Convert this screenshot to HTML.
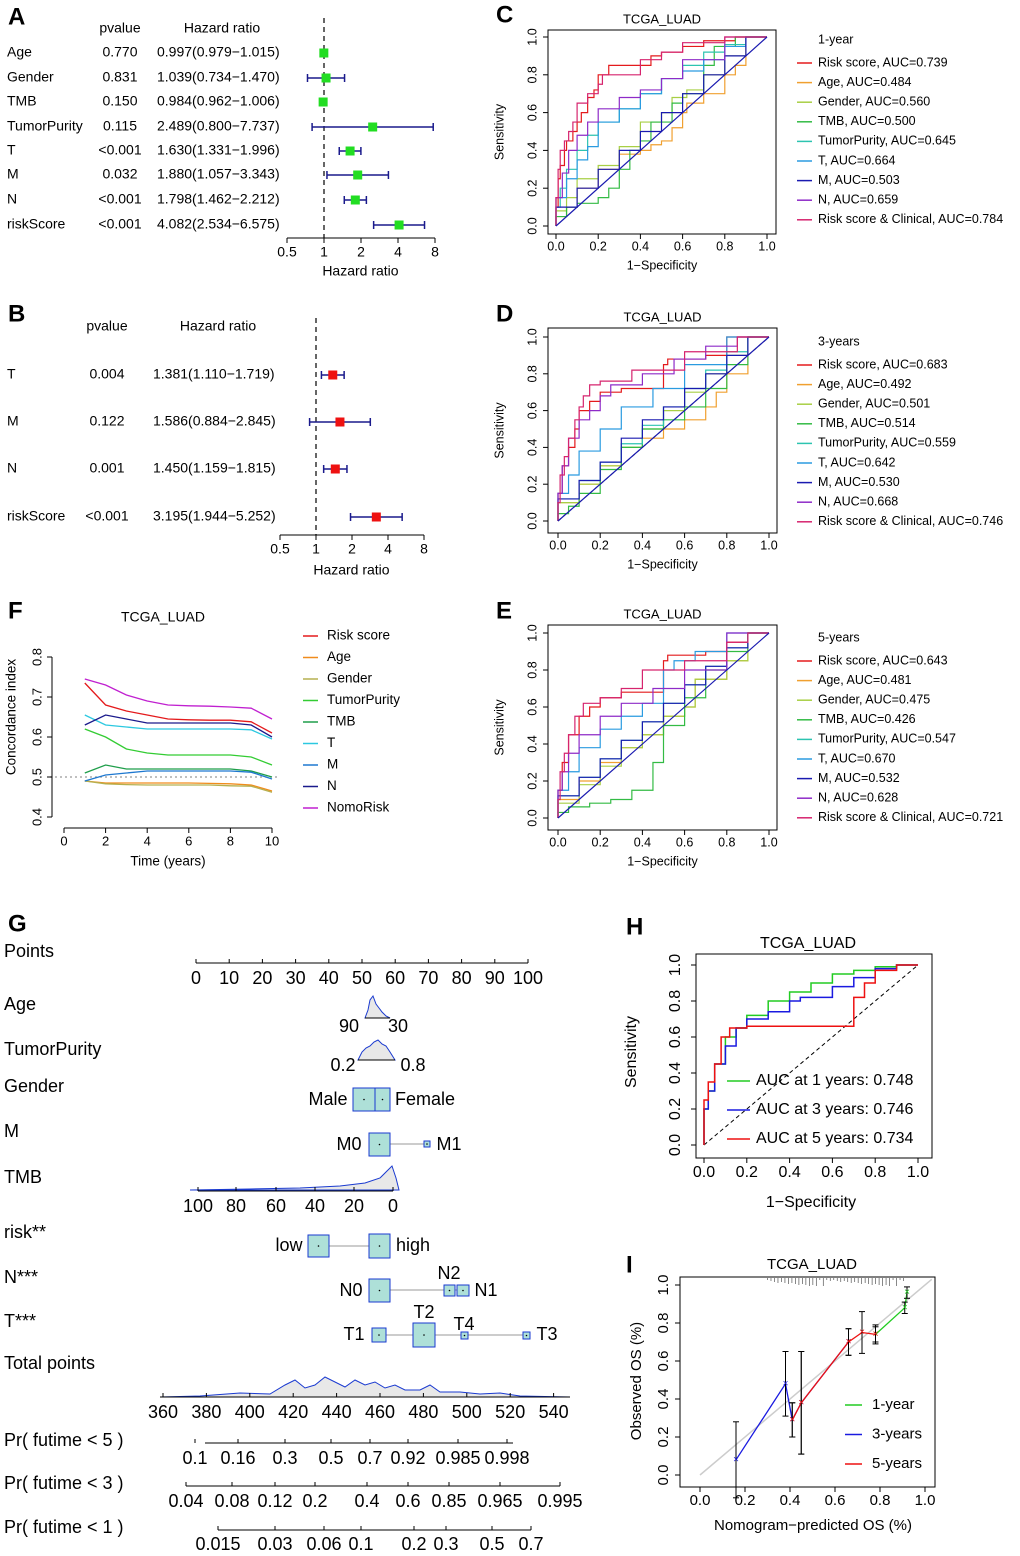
<!DOCTYPE html>
<html><head><meta charset="utf-8"><style>
html,body{margin:0;padding:0;background:#fff}
svg{display:block;font-family:"Liberation Sans",Arial,sans-serif}
</style></head><body>
<svg id="fig" width="1020" height="1556" viewBox="0 0 1020 1556"></svg>
<script>
// ---------------- DATA ----------------
const forestA_names=["Age","Gender","TMB","TumorPurity","T","M","N","riskScore"];
const forestA_p=["0.770","0.831","0.150","0.115","<0.001","0.032","<0.001","<0.001"];
const forestA_hr=[0.997,1.039,0.984,2.489,1.630,1.880,1.798,4.082];
const forestA_lo=[0.979,0.734,0.962,0.800,1.331,1.057,1.462,2.534];
const forestA_hi=[1.015,1.470,1.006,7.737,1.996,3.343,2.212,6.575];
const forestB_names=["T","M","N","riskScore"];
const forestB_p=["0.004","0.122","0.001","<0.001"];
const forestB_hr=[1.381,1.586,1.450,3.195];
const forestB_lo=[1.110,0.884,1.159,1.944];
const forestB_hi=[1.719,2.845,1.815,5.252];
const forestTicks=[0.5,1,2,4,8];

const rocLabels=["Risk score","Age","Gender","TMB","TumorPurity","T","M","N","Risk score & Clinical"];
const rocColors=["#E41A1C","#F0A030","#A8CF45","#33BB44","#2CC4B0","#2A9BE0","#1A1AB0","#8E2BC8","#D6246E"];
const aucC=["0.739","0.484","0.560","0.500","0.645","0.664","0.503","0.659","0.784"];
const aucD=["0.683","0.492","0.501","0.514","0.559","0.642","0.530","0.668","0.746"];
const aucE=["0.643","0.481","0.475","0.426","0.547","0.670","0.532","0.628","0.721"];
const rocC_fpr=[[0,.01,.02,.04,.05,.08,.1,.12,.15,.18,.2,.25,.3,.45,.5,.6,.7,.85,1],[0,.05,.1,.2,.3,.4,.45,.5,.55,.6,.62,.7,.8,.85,.9,1],[0,.05,.1,.2,.3,.4,.5,.55,.62,.7,.8,.9,1],[0,.05,.1,.2,.25,.3,.35,.4,.45,.55,.6,.7,.75,.85,1],[0,.02,.05,.1,.15,.2,.3,.4,.5,.6,.7,.8,.9,1],[0,.05,.1,.15,.2,.3,.4,.5,.6,.7,.8,.9,1],[0,.1,.2,.3,.4,.5,.6,.7,.8,.9,1],[0,.03,.06,.1,.15,.2,.3,.4,.5,.6,.8,1],[0,.01,.02,.04,.06,.08,.1,.15,.2,.22,.28,.4,.5,.6,.8,1]];
const rocC_tpr=[[0,.1,.25,.32,.4,.45,.5,.55,.6,.68,.72,.8,.85,.85,.9,.92,.95,.98,1],[0,.05,.1,.2,.3,.38,.4,.43,.45,.52,.6,.65,.7,.8,.85,1],[0,.08,.15,.25,.32,.42,.55,.6,.68,.72,.8,.9,1],[0,.05,.1,.12,.15,.2,.3,.4,.45,.55,.65,.7,.85,.95,1],[0,.1,.2,.3,.4,.48,.55,.62,.7,.78,.85,.92,.96,1],[0,.15,.25,.35,.42,.55,.62,.7,.78,.82,.88,.95,1],[0,.1,.2,.3,.4,.5,.6,.7,.8,.9,1],[0,.15,.28,.4,.48,.55,.62,.68,.72,.78,.88,1],[0,.15,.3,.4,.45,.5,.55,.65,.7,.75,.8,.8,.88,.92,.97,1]];
const rocD_fpr=[[0,.02,.05,.08,.1,.15,.2,.3,.4,.5,.52,.7,.8,1],[0,.1,.2,.3,.4,.5,.6,.7,.75,.8,.9,1],[0,.1,.2,.3,.4,.5,.6,.7,.8,.9,1],[0,.05,.1,.2,.3,.4,.5,.6,.7,.8,.9,1],[0,.1,.2,.3,.4,.5,.6,.7,.8,.9,1],[0,.05,.1,.2,.3,.45,.6,.8,1],[0,.1,.2,.3,.4,.5,.6,.7,.8,.9,1],[0,.02,.05,.1,.15,.2,.25,.4,.55,.7,.85,1],[0,.01,.03,.05,.08,.1,.12,.15,.2,.35,.6,.85,1]];
const rocD_tpr=[[0,.15,.3,.4,.5,.6,.65,.7,.72,.72,.85,.88,.9,1],[0,.1,.2,.3,.4,.45,.5,.55,.62,.7,.8,1],[0,.1,.2,.3,.4,.5,.6,.7,.8,.9,1],[0,.04,.08,.15,.28,.4,.5,.55,.62,.72,.85,1],[0,.12,.22,.32,.42,.52,.62,.72,.82,.92,1],[0,.15,.25,.38,.5,.62,.72,.85,1],[0,.12,.22,.32,.45,.55,.62,.72,.8,.9,1],[0,.15,.3,.45,.55,.6,.68,.74,.8,.88,.95,1],[0,.1,.25,.35,.45,.55,.62,.68,.74,.76,.82,.92,1]];
const rocE_fpr=[[0,.02,.05,.1,.15,.2,.3,.4,.5,.52,.7,.8,.9,1],[0,.1,.2,.3,.4,.5,.6,.65,.8,.9,1],[0,.1,.2,.3,.4,.5,.6,.65,.8,.9,1],[0,.05,.15,.25,.35,.45,.5,.6,.7,.8,.9,1],[0,.1,.2,.3,.4,.5,.6,.7,.8,.9,1],[0,.05,.1,.2,.3,.4,.5,.55,.65,.8,1],[0,.1,.2,.3,.4,.5,.6,.7,.8,.9,1],[0,.02,.05,.1,.2,.3,.45,.6,.8,1],[0,.01,.03,.05,.08,.12,.2,.3,.4,.6,.8,.9,1]];
const rocE_tpr=[[0,.15,.3,.45,.55,.6,.65,.68,.68,.85,.88,.9,.95,1],[0,.1,.2,.3,.38,.45,.55,.6,.75,.85,1],[0,.08,.18,.28,.38,.45,.55,.6,.75,.85,1],[0,.03,.06,.08,.1,.15,.3,.5,.65,.8,.9,1],[0,.12,.22,.32,.42,.52,.62,.72,.82,.92,1],[0,.15,.25,.38,.48,.55,.62,.8,.85,.9,1],[0,.12,.22,.32,.42,.52,.62,.72,.82,.92,1],[0,.15,.25,.35,.45,.55,.62,.7,.8,1],[0,.1,.25,.35,.45,.55,.62,.65,.7,.8,.85,.95,1]];

const cindexTimes=[1,2,3,4,5,6,7,8,9,10];
const cindexLabels=["Risk score","Age","Gender","TumorPurity","TMB","T","M","N","NomoRisk"];
const cindexColors=["#E41A1C","#F08C1C","#B5B050","#33CC33","#1F9E4A","#2CC8E0","#1E78D0","#1A1A8C","#C020D0"];
const cindexVals=[
 [0.735,0.68,0.665,0.655,0.645,0.643,0.642,0.642,0.638,0.61],
 [0.49,0.485,0.485,0.485,0.485,0.485,0.484,0.483,0.48,0.465],
 [0.49,0.483,0.481,0.48,0.48,0.48,0.48,0.478,0.477,0.462],
 [0.62,0.6,0.57,0.56,0.555,0.555,0.555,0.555,0.55,0.53],
 [0.51,0.53,0.52,0.52,0.52,0.52,0.52,0.52,0.515,0.50],
 [0.655,0.63,0.625,0.62,0.62,0.62,0.62,0.62,0.618,0.595],
 [0.49,0.505,0.51,0.515,0.515,0.515,0.515,0.515,0.512,0.495],
 [0.63,0.655,0.645,0.635,0.635,0.635,0.635,0.635,0.63,0.6],
 [0.745,0.73,0.705,0.69,0.68,0.678,0.677,0.675,0.672,0.645]];

const rocH_fpr=[[0,.02,.05,.1,.15,.2,.3,.4,.5,.6,.7,.8,.9,1],[0,.02,.05,.1,.15,.2,.3,.4,.45,.6,.7,.8,.9,1],[0,.02,.05,.08,.12,.2,.35,.5,.7,.75,.8,.9,1]];
const rocH_tpr=[[0,.2,.3,.45,.6,.65,.72,.8,.85,.9,.95,.97,.99,1],[0,.2,.3,.45,.55,.65,.7,.74,.8,.82,.88,.93,.98,1],[0,.25,.35,.45,.6,.65,.66,.66,.66,.82,.9,.97,1]];
const aucH=["0.748","0.746","0.734"];
const calibX=[[0.78,0.91,0.92],[0.16,0.38,0.45,0.41,0.66],[0.41,0.45,0.66,0.72,0.78]];
const calibY=[[0.74,0.88,0.96],[0.08,0.48,0.38,0.29,0.70],[0.29,0.38,0.70,0.75,0.74]];
const calibErr=[[0.04,0.03,0.03],[0.20,0.17,0.27,0.09,0.07],[0.09,0.27,0.07,0.11,0.05]];

// ---------------- HELPERS ----------------
const NS="http://www.w3.org/2000/svg";
const svg=document.getElementById('fig');
function el(tag,attrs,parent){const e=document.createElementNS(NS,tag);for(const k in attrs)e.setAttribute(k,attrs[k]);(parent||svg).appendChild(e);return e;}
function txt(x,y,s,size,anchor,parent,extra){const t=el('text',Object.assign({x:x,y:y,'font-size':size,'text-anchor':anchor||'start','dominant-baseline':'middle',fill:'#000'},extra||{}),parent);t.textContent=s;return t;}
function line(x1,y1,x2,y2,stroke,w,parent,dash){const a={x1:x1,y1:y1,x2:x2,y2:y2,stroke:stroke,'stroke-width':w||1};if(dash)a['stroke-dasharray']=dash;return el('line',a,parent);}
function stepPts(f,t,sx,sy){let pts=[];f.forEach((v,j)=>{if(j>0)pts.push(sx(f[j-1])+','+sy(t[j]));pts.push(sx(v)+','+sy(t[j]));});return pts.join(' ');}

[["A",8,18],["B",8,315],["C",496,16],["D",496,315],["F",8,612],["E",496,612],["G",8,925],["H",626,928],["I",626,1266]].forEach(p=>{
 const t=txt(p[1],p[2],p[0],24,'start',null,{'font-weight':'bold'});
 
 
});

// ---------------- FOREST ----------------
function forest(id,names,ps,hr,lo,hi,rows,hdrY,pX,hrX,x1,dpx,axY,titleY,color,topY,fs){
 const g=el('g',{});
 
 
 const sx=v=>x1+dpx*Math.log2(v);
 txt(pX,hdrY,'pvalue',fs,'middle',g);
 txt(hrX+65,hdrY,'Hazard ratio',fs,'middle',g);
 line(x1,topY,x1,axY,'#000',1.2,g,'5,4');
 names.forEach((n,i)=>{
  const y=rows[i];
  txt(7,y,n,fs,'start',g);
  txt(pX,y,ps[i],fs,'middle',g);
  txt(hrX,y,hr[i].toFixed(3)+'('+lo[i].toFixed(3)+'\u2212'+hi[i].toFixed(3)+')',fs,'start',g);
  line(sx(lo[i]),y,sx(hi[i]),y,'#1A1A8C',1.5,g);
  line(sx(lo[i]),y-4,sx(lo[i]),y+4,'#1A1A8C',1.5,g);
  line(sx(hi[i]),y-4,sx(hi[i]),y+4,'#1A1A8C',1.5,g);
  const r=el('rect',{x:sx(hr[i])-4.5,y:y-4.5,width:9,height:9,fill:color},g);
  
  
 });
 line(sx(0.5),axY,sx(8),axY,'#000',1,g);
 forestTicks.forEach(t=>{line(sx(t),axY,sx(t),axY+5,'#000',1,g);txt(sx(t),axY+15,String(t),fs,'middle',g);});
 txt(sx(Math.SQRT2*1.4),titleY,'Hazard ratio',fs,'middle',g);
}
forest('a',forestA_names,forestA_p,forestA_hr,forestA_lo,forestA_hi,[53,78,102,127,151,175,200,225],29,120,157,324,37,238,272,'#22DD22',18,14);
forest('b',forestB_names,forestB_p,forestB_hr,forestB_lo,forestB_hi,[375,422,469,517],327,107,153,316,36,535,571,'#EE1111',318,14);

// ---------------- ROC (C,D,E) ----------------
function rocPanel(id,bx0,by0,bx1,by1,sx0,sy0,span,spanY,fprs,tprs,aucs,hdr,legY,dashed){
 const g=el('g',{});
 
 
 const sx=v=>sx0+v*span, sy=v=>sy0-v*spanY;
 txt((bx0+bx1)/2,by0-10,'TCGA_LUAD',13,'middle',g);
 if(dashed) line(sx(0),sy(0),sx(1),sy(1),'#000',1,g,'4,3');
 fprs.forEach((f,i)=>{
  const p=el('polyline',{points:stepPts(f,tprs[i],sx,sy),fill:'none',stroke:rocColors[i],'stroke-width':1.2},g);
  
  
 });
 line(sx(0),sy(0),sx(1),sy(1),'#1A1AB0',1.2,g);
 el('rect',{x:bx0,y:by0,width:bx1-bx0,height:by1-by0,fill:'none',stroke:'#000','stroke-width':1},g);
 for(let k=0;k<=5;k++){const v=k/5;
  line(sx(v),by1,sx(v),by1+5,'#000',1,g);txt(sx(v),by1+13,v.toFixed(1),12.5,'middle',g);
  line(bx0,sy(v),bx0-5,sy(v),'#000',1,g);txt(bx0-15,sy(v),v.toFixed(1),12.5,'middle',g,{transform:'rotate(-90 '+(bx0-15)+' '+sy(v)+')'});
 }
 txt((bx0+bx1)/2,by1+32,'1\u2212Specificity',12.5,'middle',g);
 const yl=(by0+by1)/2;txt(bx0-48,yl,'Sensitivity',12.5,'middle',g,{transform:'rotate(-90 '+(bx0-48)+' '+yl+')'});
 txt(818,legY,hdr,12.5,'start',g);
 aucs.forEach((a,i)=>{const y=legY+23+i*19.6;
  const lg=el('g',{},g);
  
  
  line(797,y,812,y,rocColors[i],1.5,lg);txt(818,y,rocLabels[i]+', AUC='+a,12.5,'start',lg);});
}
rocPanel('c',548,30,776,234,556,226,211,189,rocC_fpr,rocC_tpr,aucC,'1-year',40,false);
rocPanel('d',548,328,777,533,558,521,211,184,rocD_fpr,rocD_tpr,aucD,'3-years',342,true);
rocPanel('e',548,625,777,830,558,818,211,185,rocE_fpr,rocE_tpr,aucE,'5-years',638,false);

// ---------------- C-INDEX (F) ----------------
(function(){
 const g=el('g',{});
 
 
 const sx=t=>64+t*20.8, sy=v=>817-(v-0.4)*400;
 txt(163,618,'TCGA_LUAD',14,'middle',g);
 line(50,sy(0.5),280,sy(0.5),'#999',1.3,g,'2,3');
 cindexVals.forEach((s,i)=>{
  const p=el('polyline',{points:s.map((v,j)=>sx(cindexTimes[j])+','+sy(v)).join(' '),fill:'none',stroke:cindexColors[i],'stroke-width':1.3},g);
  
  
 });
 line(sx(0),828,sx(10),828,'#000',1,g);
 [0,2,4,6,8,10].forEach(t=>{line(sx(t),828,sx(t),833,'#000',1,g);txt(sx(t),842,String(t),13,'middle',g);});
 line(52,sy(0.4),52,sy(0.8),'#000',1,g);
 [0.4,0.5,0.6,0.7,0.8].forEach(v=>{line(52,sy(v),47,sy(v),'#000',1,g);txt(38,sy(v),v.toFixed(1),13,'middle',g,{transform:'rotate(-90 38 '+sy(v)+')'});});
 txt(168,862,'Time (years)',13.5,'middle',g);
 txt(12,717,'Concordance index',13.5,'middle',g,{transform:'rotate(-90 12 717)'});
 cindexLabels.forEach((l,i)=>{const y=636+i*21.5;line(303,y,318,y,cindexColors[i],1.5,g);txt(327,y,l,13.5,'start',g);});
})();

// ---------------- NOMOGRAM (G) ----------------
(function(){
 const g=el('g',{});
 
 
 const F=18;
 [["Points",952],["Age",1005],["TumorPurity",1050],["Gender",1087],["M",1132],["TMB",1178],["risk**",1233],["N***",1278],["T***",1322],["Total points",1364],["Pr( futime < 5 )",1441],["Pr( futime < 3 )",1484],["Pr( futime < 1 )",1528]].forEach(r=>txt(4,r[1],r[0],F,'start',g));
 function scale(y,labels,xs,ly,size,x0,x1){line(x0!==undefined?x0:xs[0],y,x1!==undefined?x1:xs[xs.length-1],y,'#000',1,g);xs.forEach((x,i)=>{line(x,y,x,y-4,'#000',1,g);txt(x,ly,labels[i],size||F,'middle',g);});}
 scale(963,["0","10","20","30","40","50","60","70","80","90","100"],[0,1,2,3,4,5,6,7,8,9,10].map(i=>196+i*33.2),979);
 const box=(x,y,w,h)=>{el('rect',{x:x,y:y,width:w,height:h,fill:'#AEE0D8',stroke:'#1A3AD0','stroke-width':1},g);el('circle',{cx:x+w/2,cy:y+h/2,r:0.8,fill:'#000'},g);};
 el('path',{d:'M365 1018 L368 1010 L370 1000 L373 996 L376 1004 L379 1008 L382 1012 L386 1016 L390 1018 Z',fill:'#E8E8E8',stroke:'#1A3AD0'},g);
 line(365,1018,390,1018,'#000',1,g);txt(349,1027,'90',F,'middle',g);txt(398,1027,'30',F,'middle',g);
 el('path',{d:'M358 1060 L362 1052 L366 1048 L370 1046 L374 1042 L378 1040 L382 1044 L386 1046 L390 1052 L395 1060 Z',fill:'#E8E8E8',stroke:'#1A3AD0'},g);
 line(358,1060,395,1060,'#000',1,g);txt(343,1066,'0.2',F,'middle',g);txt(413,1066,'0.8',F,'middle',g);
 box(353,1088,22,23);box(375,1088,15,23);txt(328,1100,'Male',F,'middle',g);txt(425,1100,'Female',F,'middle',g);
 line(390,1144,427,1144,'#999',1,g);box(369,1133,21,23);box(424,1141,6,6);txt(349,1145,'M0',F,'middle',g);txt(449,1145,'M1',F,'middle',g);
 el('path',{d:'M190 1190 L250 1189 L300 1188 L340 1186 L365 1183 L380 1178 L388 1170 L392 1166 L396 1178 L399 1190 Z',fill:'#E8E8E8',stroke:'#1A3AD0'},g);
 scale(1191,["100","80","60","40","20","0"],[198,236,276,315,354,393],1207);
 line(329,1246,369,1246,'#999',1,g);box(308,1235,21,22);box(369,1234,21,24);txt(289,1246,'low',F,'middle',g);txt(413,1246,'high',F,'middle',g);
 line(390,1290,469,1290,'#999',1,g);box(369,1279,21,23);box(444,1285,11,11);box(457,1285,12,11);txt(351,1291,'N0',F,'middle',g);txt(449,1274,'N2',F,'middle',g);txt(486,1291,'N1',F,'middle',g);
 line(386,1335,530,1335,'#999',1,g);box(372,1328,14,14);box(413,1323,22,24);box(461,1332,7,7);box(523,1332,7,7);
 txt(354,1335,'T1',F,'middle',g);txt(424,1313,'T2',F,'middle',g);txt(464,1325,'T4',F,'middle',g);txt(547,1335,'T3',F,'middle',g);
 el('path',{d:'M160 1397 L200 1396 L240 1393 L270 1394 L285 1385 L295 1380 L305 1388 L315 1385 L325 1377 L335 1382 L345 1387 L355 1380 L365 1385 L375 1382 L385 1388 L395 1385 L405 1390 L420 1390 L430 1385 L440 1392 L460 1392 L480 1394 L500 1393 L520 1396 L570 1397 Z',fill:'#E8E8E8',stroke:'#1A3AD0'},g);
 scale(1397,["360","380","400","420","440","460","480","500","520","540"],[0,1,2,3,4,5,6,7,8,9].map(i=>163+i*43.4),1413,F,160,570);
 scale(1443,["0.1","0.16","0.3","0.5","0.7","0.92","0.985","0.998"],[195,238,285,331,370,408,458,507],1459,F,205,513);
 scale(1486,["0.04","0.08","0.12","0.2","0.4","0.6","0.85","0.965","0.995"],[186,232,275,315,367,408,449,500,560],1502,F);
 scale(1530,["0.015","0.03","0.06","0.1","0.2","0.3","0.5","0.7"],[218,275,324,361,414,446,492,531],1545,F);
})();

// ---------------- ROC (H) ----------------
(function(){
 const g=el('g',{});
 
 
 const sx=v=>704+v*214, sy=v=>1145-v*180;
 const cols=["#22CC22","#1A1AE0","#EE1111"];
 txt(808,944,'TCGA_LUAD',16,'middle',g);
 line(sx(0),sy(0),sx(1),sy(1),'#000',1,g,'4,3');
 rocH_fpr.forEach((f,i)=>{
  const p=el('polyline',{points:stepPts(f,rocH_tpr[i],sx,sy),fill:'none',stroke:cols[i],'stroke-width':1.5},g);
  
  });
 el('rect',{x:696,y:954,width:236,height:204,fill:'none',stroke:'#000'},g);
 for(let k=0;k<=5;k++){const v=k/5;line(sx(v),1158,sx(v),1163,'#000',1,g);txt(sx(v),1173,v.toFixed(1),16,'middle',g);
  line(696,sy(v),691,sy(v),'#000',1,g);txt(676,sy(v),v.toFixed(1),16,'middle',g,{transform:'rotate(-90 676 '+sy(v)+')'});}
 txt(811,1203,'1\u2212Specificity',16,'middle',g);
 txt(632,1052,'Sensitivity',16,'middle',g,{transform:'rotate(-90 632 1052)'});
 ["1","3","5"].forEach((yy,i)=>{const y=1081+i*29;line(727,y,750,y,cols[i],1.5,g);txt(756,y,'AUC at '+yy+' years: '+aucH[i],16,'start',g);});
})();

// ---------------- CALIBRATION (I) ----------------
(function(){
 const g=el('g',{});
 
 
 const sx=v=>700+v*225, sy=v=>1475-v*190;
 const cols=["#22CC22","#1A1AE0","#EE1111"];
 txt(812,1265,'TCGA_LUAD',15,'middle',g);
 line(sx(0),sy(0),sx(1.03),sy(1.03),'#CCCCCC',1.5,g);
 for(let i=0;i<40;i++){const x=sx(0.3+0.62*((i*37)%40)/40);line(x,1278,x,1278+2+((i*13)%7),'#555',0.7,g);}
 calibX.forEach((xs,i)=>{
  const order=xs.map((v,j)=>j).sort((a,b)=>xs[a]-xs[b]);
  const p=el('polyline',{points:order.map(j=>sx(xs[j])+','+sy(calibY[i][j])).join(' '),fill:'none',stroke:cols[i],'stroke-width':1.3},g);
  
  
  xs.forEach((x,j)=>{const y=calibY[i][j],e=calibErr[i][j];
   line(sx(x),sy(y-e),sx(x),sy(y+e),'#000',1,g);line(sx(x)-3,sy(y-e),sx(x)+3,sy(y-e),'#000',1,g);line(sx(x)-3,sy(y+e),sx(x)+3,sy(y+e),'#000',1,g);
   txt(sx(x),sy(y),'×',10,'middle',g,{fill:cols[i]});});
 });
 el('rect',{x:680,y:1277,width:255,height:210,fill:'none',stroke:'#000'},g);
 for(let k=0;k<=5;k++){const v=k/5;line(sx(v),1487,sx(v),1492,'#000',1,g);txt(sx(v),1501,v.toFixed(1),15,'middle',g);
  line(680,sy(v),675,sy(v),'#000',1,g);txt(664,sy(v),v.toFixed(1),15,'middle',g,{transform:'rotate(-90 664 '+sy(v)+')'});}
 txt(813,1526,'Nomogram\u2212predicted OS (%)',15,'middle',g);
 txt(637,1381,'Observed OS (%)',15,'middle',g,{transform:'rotate(-90 637 1381)'});
 ["1-year","3-years","5-years"].forEach((l,i)=>{const y=1405+i*29.5;line(845,y,862,y,cols[i],1.5,g);txt(872,y,l,15,'start',g);});
})();
</script>
</body></html>
